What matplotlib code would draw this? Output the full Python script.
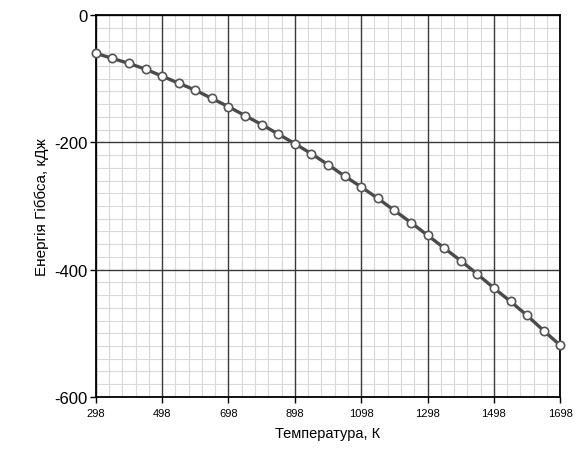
import matplotlib
matplotlib.use("Agg")
import matplotlib.pyplot as plt
import numpy as np
from matplotlib.ticker import FixedLocator

plt.rcParams['font.family'] = ['Liberation Sans', 'DejaVu Sans']

# temperature, K and Gibbs energy, kJ
temps = [298, 348, 398, 448, 498, 548, 598, 648, 698, 748, 798, 848, 898, 948,
         998, 1048, 1098, 1148, 1198, 1248, 1298, 1348, 1398, 1448, 1498,
         1548, 1598, 1648, 1698]
gibbs = [-60, -68, -76, -85, -96, -107, -118, -131, -144, -158, -172, -187,
         -202, -218, -235, -253, -270, -288, -307, -326, -346, -366, -386,
         -407, -429, -450, -472, -496, -519]
xticks = [298, 498, 698, 898, 1098, 1298, 1498, 1698]
yticks = [0, -200, -400, -600]

fig = plt.figure(figsize=(5.77, 4.6), dpi=100)
ax = fig.add_axes([0.166, 0.135, 0.805, 0.83])

ax.plot(temps, gibbs, color='#4a4a4a', lw=2.4, marker='o', ms=6,
        mfc='white', mec='#555555', mew=1.2, zorder=3, clip_on=False)

ax.set_xlim(298, 1698)
ax.set_ylim(-600, 0)
ax.set_xticks(xticks)
ax.set_yticks(yticks)
# minor grid: 5 cells per major step in x, 10 in y
ax.xaxis.set_minor_locator(FixedLocator(np.arange(298, 1699, 40)))
ax.yaxis.set_minor_locator(FixedLocator(np.arange(-600, 1, 20)))
ax.grid(which='minor', color='#dadada', lw=0.8)
ax.set_axisbelow(True)
# major grid drawn separately so the light lines don't cut through it
for x in xticks:
    ax.axvline(x, color='#3a3a3a', lw=1.0, zorder=1)
for y in yticks:
    ax.axhline(y, color='#3a3a3a', lw=1.0, zorder=1)

for s in ax.spines.values():
    s.set_color('black')
    s.set_linewidth(1.3)

ax.tick_params(axis='x', which='major', labelsize=8, length=4, width=1,
               direction='out', pad=4)
ax.tick_params(axis='y', which='major', labelsize=12, length=4, width=1,
               direction='out', pad=2)
ax.tick_params(which='minor', length=0)
ax.set_yticklabels([str(v) for v in yticks])

ax.set_xlabel('Температура, К', fontsize=10.5, labelpad=6)
ax.set_ylabel('Енергія Гіббса, кДж', fontsize=11, labelpad=4)

fig.savefig('out.png', dpi=100)
